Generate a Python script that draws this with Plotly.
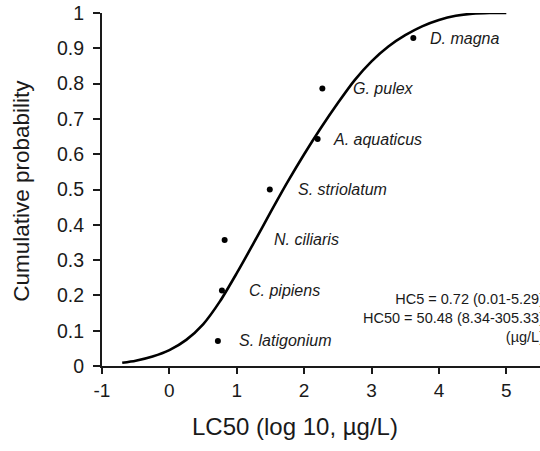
import plotly.graph_objects as go

# Species data (log10 LC50, cumulative probability)
species = ["S. latigonium", "C. pipiens", "N. ciliaris", "S. striolatum",
           "A. aquaticus", "G. pulex", "D. magna"]
log_lc50 = [0.72, 0.78, 0.82, 1.49, 2.20, 2.27, 3.62]
cum_prob = [0.071, 0.214, 0.357, 0.500, 0.643, 0.786, 0.929]

# Fitted SSD curve
curve_x = [-0.7, -0.5, -0.25, 0.0, 0.25, 0.5, 0.75, 1.0, 1.25, 1.5, 1.75,
           2.0, 2.25, 2.5, 2.75, 3.0, 3.25, 3.5, 3.75, 4.0, 4.25, 4.5, 4.75, 5.0]
curve_y = [0.009, 0.015, 0.027, 0.045, 0.074, 0.118, 0.183, 0.263, 0.348,
           0.435, 0.520, 0.600, 0.675, 0.745, 0.810, 0.863, 0.905, 0.937,
           0.962, 0.980, 0.992, 0.998, 1.0, 1.0]

x_ticks = [-1, 0, 1, 2, 3, 4, 5]
y_ticks = [0, 0.1, 0.2, 0.3, 0.4, 0.5, 0.6, 0.7, 0.8, 0.9, 1]
y_ticklabels = ["0", "0.1", "0.2", "0.3", "0.4", "0.5", "0.6", "0.7", "0.8", "0.9", "1"]

hc_lines = ["HC5 = 0.72 (0.01-5.29)", "HC50 = 50.48 (8.34-305.33)", "(µg/L)"]

label_shift = [19, 25, 47, 26, 13, 29, 15]

FONT = "Liberation Sans, Arial, sans-serif"
INK = "#1a1a1a"

fig = go.Figure()
fig.add_trace(go.Scatter(x=curve_x, y=curve_y, mode="lines",
                         line=dict(color="black", width=2.6, shape="spline", smoothing=0.7),
                         hoverinfo="skip", showlegend=False))
fig.add_trace(go.Scatter(x=log_lc50, y=cum_prob, mode="markers",
                         marker=dict(color="black", size=6),
                         showlegend=False))

for name, xv, yv, sh in zip(species, log_lc50, cum_prob, label_shift):
    fig.add_annotation(x=xv, y=yv, text="<i>" + name + "</i>", showarrow=False,
                       xanchor="left", yanchor="middle", xshift=sh,
                       font=dict(family=FONT, size=16, color=INK))

fig.add_annotation(x=1.0137, y=0.136, xref="paper", yref="paper",
                   text="<br>".join(hc_lines), showarrow=False,
                   xanchor="right", yanchor="middle", align="right",
                   font=dict(family=FONT, size=14.5, color=INK))

fig.add_annotation(x=0.44, y=-0.172, xref="paper", yref="paper",
                   text="LC50 (log 10, µg/L)", showarrow=False,
                   xanchor="center", yanchor="middle",
                   font=dict(family=FONT, size=24, color=INK))
fig.add_annotation(x=-0.183, y=0.496, xref="paper", yref="paper",
                   text="Cumulative probability", showarrow=False, textangle=-90,
                   xanchor="center", yanchor="middle",
                   font=dict(family=FONT, size=22.5, color=INK))

fig.update_xaxes(range=[-1, 5.5], tickvals=x_ticks, ticktext=[str(t) for t in x_ticks],
                 showgrid=False, zeroline=False, showline=True, linecolor=INK,
                 linewidth=2, ticks="outside", ticklen=6, tickwidth=2, tickcolor=INK,
                 tickfont=dict(family=FONT, size=19, color=INK))
fig.update_yaxes(range=[0, 1], tickvals=y_ticks, ticktext=y_ticklabels,
                 showgrid=False, zeroline=False, showline=True, linecolor=INK,
                 linewidth=2, ticks="outside", ticklen=7, tickwidth=2, tickcolor=INK,
                 ticklabelstandoff=5,
                 tickfont=dict(family=FONT, size=19.5, color=INK))

fig.update_layout(width=540, height=451, margin=dict(l=102, r=0, t=13, b=85),
                  plot_bgcolor="white", paper_bgcolor="white")

fig.write_html("out.html")
